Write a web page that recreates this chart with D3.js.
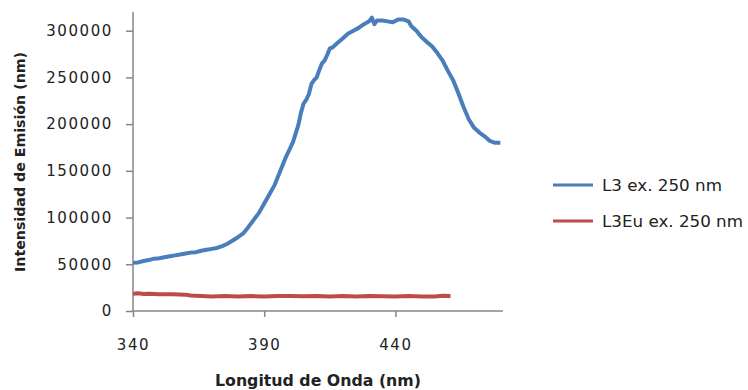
<!DOCTYPE html>
<html><head><meta charset="utf-8">
<script src="https://cdn.jsdelivr.net/npm/d3@7"></script>
<style>body{margin:0;background:#fff}svg{display:block}</style>
</head><body><svg id="c" width="748" height="390"></svg>
<script>
const blueX = [340,342,344,346,348,350,352,354,356,358,360,362,364,366,368,370,372,374,376,378,380,382,384,386,388,390,392,394,396,398,400,401,402,403,404,405,406,407,408,409,410,411,412,413,414,415,416,418,420,422,424,426,428,430,431,432,433,435,437,439,441,443,445,446,448,450,452,454,456,458,460,462,464,466,468,470,472,474,476,478,480];
const blueY = [51500,52000,53500,54500,56000,56500,57500,58500,59500,60500,61500,62500,63000,64500,65500,66500,67500,69500,72000,75500,79000,83000,90000,97500,105000,115000,125000,135000,149000,163000,175000,181000,190000,199000,212000,222000,226000,232000,243000,247000,250000,258000,265000,268000,274000,281000,282000,287000,292000,297000,300000,303000,307000,310000,314000,307000,311000,311000,310000,309000,312000,312000,310000,305000,300000,293000,288000,283000,276000,268000,257000,247000,233000,218000,205000,196000,191000,187000,182000,180000,180000];
const redX = [340,342,344,346,350,355,360,362,366,370,375,380,385,390,395,400,405,410,415,420,425,430,435,440,445,450,455,458,461];
const redY = [18500,19000,18200,18500,18000,17800,17500,16500,16000,15500,16000,15500,16000,15500,16000,16000,15800,16000,15600,16000,15500,16000,15800,15500,16000,15500,15500,16200,16000];
const xTicks = [340,390,440];
const yTicks = [0,50000,100000,150000,200000,250000,300000];
const seriesNames = ["L3 ex. 250 nm","L3Eu ex. 250 nm"];
const colors = ["#4a7ebb","#be4b48"];

const svg = d3.select("#c");
const x = d3.scaleLinear().domain([340,481]).range([133,503]);
const y = d3.scaleLinear().domain([0,320000]).range([311,12]);
const axisColor = "#868686";
const font = "'DejaVu Sans', Verdana, sans-serif";

const ya = svg.append("g").attr("transform","translate(133,0)")
  .call(d3.axisLeft(y).tickValues(yTicks).tickSize(7).tickPadding(13).tickFormat(d3.format("d")));
const xa = svg.append("g").attr("transform","translate(0,311)")
  .call(d3.axisBottom(x).tickValues(xTicks).tickSize(6).tickPadding(22).tickFormat(d3.format("d")));
[ya,xa].forEach(a=>{
  a.select(".domain").attr("stroke",axisColor).attr("stroke-width",1.5);
  a.selectAll(".tick line").attr("stroke",axisColor).attr("stroke-width",1.5);
  a.selectAll("text").attr("font-family",font).attr("font-size",15).attr("fill","#222").attr("letter-spacing","1.6px");
});
ya.select(".domain").attr("d","M0,12V311");
xa.select(".domain").attr("d","M133,0H503");

const line = d3.line().x(d=>x(d[0])).y(d=>y(d[1]));
const series = [d3.zip(blueX,blueY), d3.zip(redX,redY)];
series.forEach((s,i)=>{
  svg.append("path").datum(s).attr("d",line).attr("fill","none")
    .attr("stroke",colors[i]).attr("stroke-width",4).attr("stroke-linejoin","round");
});

svg.append("text").attr("x",318).attr("y",386).attr("text-anchor","middle")
  .attr("font-family",font).attr("font-weight","bold").attr("font-size",15)
  .attr("textLength",206).attr("lengthAdjust","spacingAndGlyphs").attr("fill","#222")
  .text("Longitud de Onda (nm)");
svg.append("text").attr("transform","translate(25,162) rotate(-90)").attr("text-anchor","middle")
  .attr("font-family",font).attr("font-weight","bold").attr("font-size",14)
  .attr("textLength",220).attr("lengthAdjust","spacingAndGlyphs").attr("fill","#222")
  .text("Intensidad de Emisión (nm)");

const legY = [185,221];
const legW = [120,141];
seriesNames.forEach((n,i)=>{
  svg.append("line").attr("x1",553).attr("x2",593).attr("y1",legY[i]).attr("y2",legY[i])
    .attr("stroke",colors[i]).attr("stroke-width",3);
  svg.append("text").attr("x",602).attr("y",legY[i]+5.5).attr("font-family",font)
    .attr("font-size",15).attr("fill","#222")
    .attr("textLength",legW[i]).attr("lengthAdjust","spacingAndGlyphs").text(n);
});
</script></body></html>
